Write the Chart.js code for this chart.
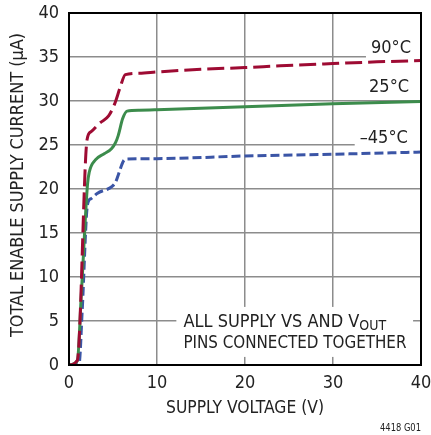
<!DOCTYPE html>
<html>
<head>
<meta charset="utf-8">
<script src="https://cdn.jsdelivr.net/npm/chart.js@4"></script>
<style>
  html, body { margin: 0; padding: 0; background: #fff; }
</style>
</head>
<body>
<canvas id="supply-chart" width="431" height="435"></canvas>
<script>
const FONT = '"Liberation Sans Narrow", "DejaVu Sans Condensed", "Liberation Sans", sans-serif';

// supply voltage (V) / current (uA)
const hot90X = [0, 0.95, 2.05, 2.5, 3.5, 4.5, 5.2, 5.8, 6.4, 8, 10, 15, 20, 24, 30, 35, 40];
const hot90Y = [0, 0.55, 25.6, 26.5, 27.5, 28.3, 29.7, 31.5, 33.0, 33.15, 33.3, 33.6, 33.8, 34.0, 34.25, 34.45, 34.6];

const room25X = [0, 0.95, 1.4, 2.1, 2.3, 3.0, 4.0, 4.85, 5.3, 5.6, 6.1, 6.6, 8, 10, 20, 30, 40];
const room25Y = [0, 0.5, 8, 20.5, 21.9, 23.3, 24.0, 24.6, 25.3, 26.1, 28.0, 28.85, 28.95, 29.0, 29.35, 29.7, 29.95];

const cold45X = [0, 1.15, 1.5, 2.1, 2.5, 3.2, 4.9, 5.3, 5.6, 6.2, 6.6, 10, 20, 30, 40];
const cold45Y = [0, 0.2, 6.2, 18.2, 18.9, 19.5, 20.3, 20.8, 21.6, 23.2, 23.4, 23.45, 23.75, 23.95, 24.2];

const tempLabels = ["90°C", "25°C", "–45°C"];
const xTicks = [0, 10, 20, 30, 40];
const yTicks = [0, 5, 10, 15, 20, 25, 30, 35, 40];

function pts(xs, ys) {
  return xs.map((x, i) => ({ x: x, y: ys[i] }));
}

// label boxes: [text, right edge (V), centre (uA)]
const tempNotes = [
  [tempLabels[0], 38.86, 36.0],
  [tempLabels[1], 38.64, 31.5],
  [tempLabels[2], 38.5, 25.8],
];

const notesPlugin = {
  id: "notes",
  beforeDatasetsDraw(chart) {
    const { ctx, chartArea, scales } = chart;
    ctx.save();
    ctx.fillStyle = "#fff";
    ctx.font = "18px " + FONT;
    tempNotes.forEach(([t, xr, yc]) => {
      const w = ctx.measureText(t).width;
      const r = scales.x.getPixelForValue(xr);
      const c = scales.y.getPixelForValue(yc);
      ctx.fillRect(r - w - 5, c - 11, chartArea.right - (r - w - 5), 21);
    });
    // box behind the bottom note
    const l = scales.x.getPixelForValue(12.2);
    const r = scales.x.getPixelForValue(39.1);
    ctx.fillRect(l, scales.y.getPixelForValue(6.6), r - l, 50);
    ctx.restore();
  },
  afterDraw(chart) {
    const { ctx, chartArea, scales } = chart;
    ctx.save();
    ctx.strokeStyle = "#000";
    ctx.lineWidth = 2;
    ctx.strokeRect(chartArea.left, chartArea.top, chartArea.right - chartArea.left, chartArea.bottom - chartArea.top);

    ctx.fillStyle = "#222";
    ctx.textBaseline = "middle";
    ctx.font = "18px " + FONT;
    ctx.textAlign = "right";
    tempNotes.forEach(([t, xr, yc]) => {
      ctx.fillText(t, scales.x.getPixelForValue(xr), scales.y.getPixelForValue(yc));
    });

    // bottom note
    ctx.textAlign = "left";
    const nx = scales.x.getPixelForValue(13);
    const y1 = scales.y.getPixelForValue(4.9);
    const y2 = scales.y.getPixelForValue(2.5);
    ctx.fillText("ALL SUPPLY VS AND V", nx, y1);
    const w = ctx.measureText("ALL SUPPLY VS AND V").width;
    ctx.font = "14px " + FONT;
    ctx.fillText("OUT", nx + w, y1 + 4);
    ctx.font = "18px " + FONT;
    ctx.fillText("PINS CONNECTED TOGETHER", nx, y2, 223);

    // axis titles
    ctx.textAlign = "center";
    ctx.fillText("SUPPLY VOLTAGE (V)", (chartArea.left + chartArea.right) / 2, 408, 158);
    ctx.save();
    ctx.translate(18, 185);
    ctx.rotate(-Math.PI / 2);
    ctx.fillText("TOTAL ENABLE SUPPLY CURRENT (µA)", 0, 0, 304);
    ctx.restore();

    ctx.font = "11px " + FONT;
    ctx.textAlign = "right";
    ctx.fillText("4418 G01", 421, 428, 41);
    ctx.restore();
  },
};

const config = {
  type: "line",
  data: {
    datasets: [
      {
        label: tempLabels[0],
        data: pts(hot90X, hot90Y),
        borderColor: "#9E0B33",
        borderWidth: 3,
        borderDash: [17, 6],
      },
      {
        label: tempLabels[1],
        data: pts(room25X, room25Y),
        borderColor: "#3C8C4C",
        borderWidth: 3,
      },
      {
        label: tempLabels[2],
        data: pts(cold45X, cold45Y),
        borderColor: "#3B55A6",
        borderWidth: 3,
        borderDash: [9, 4],
      },
    ],
  },
  options: {
    responsive: false,
    animation: false,
    events: [],
    layout: { autoPadding: false, padding: { top: 13, right: 10, left: 0, bottom: 0 } },
    elements: { point: { radius: 0 }, line: { cubicInterpolationMode: "monotone", fill: false } },
    plugins: { legend: { display: false }, tooltip: { enabled: false } },
    scales: {
      x: {
        type: "linear",
        min: 0,
        max: 40,
        afterFit(s) { s.height = 70; s.paddingLeft = 0; s.paddingRight = 0; },
        afterBuildTicks(s) { s.ticks = xTicks.map(v => ({ value: v })); },
        grid: { color: "#8c8c8c", lineWidth: 1.5, drawTicks: false },
        border: { display: false },
        ticks: { color: "#222", font: { family: FONT, size: 18 }, padding: 8, maxRotation: 0 },
      },
      y: {
        min: 0,
        max: 40,
        afterFit(s) { s.width = 69; s.paddingTop = 0; s.paddingBottom = 0; },
        afterBuildTicks(s) { s.ticks = yTicks.map(v => ({ value: v })); },
        grid: { color: "#8c8c8c", lineWidth: 1.5, drawTicks: false },
        border: { display: false },
        ticks: { color: "#222", font: { family: FONT, size: 18 }, padding: 10 },
      },
    },
  },
  plugins: [notesPlugin],
};

let supplyChart = new Chart(document.getElementById("supply-chart"), config);
</script>
</body>
</html>
